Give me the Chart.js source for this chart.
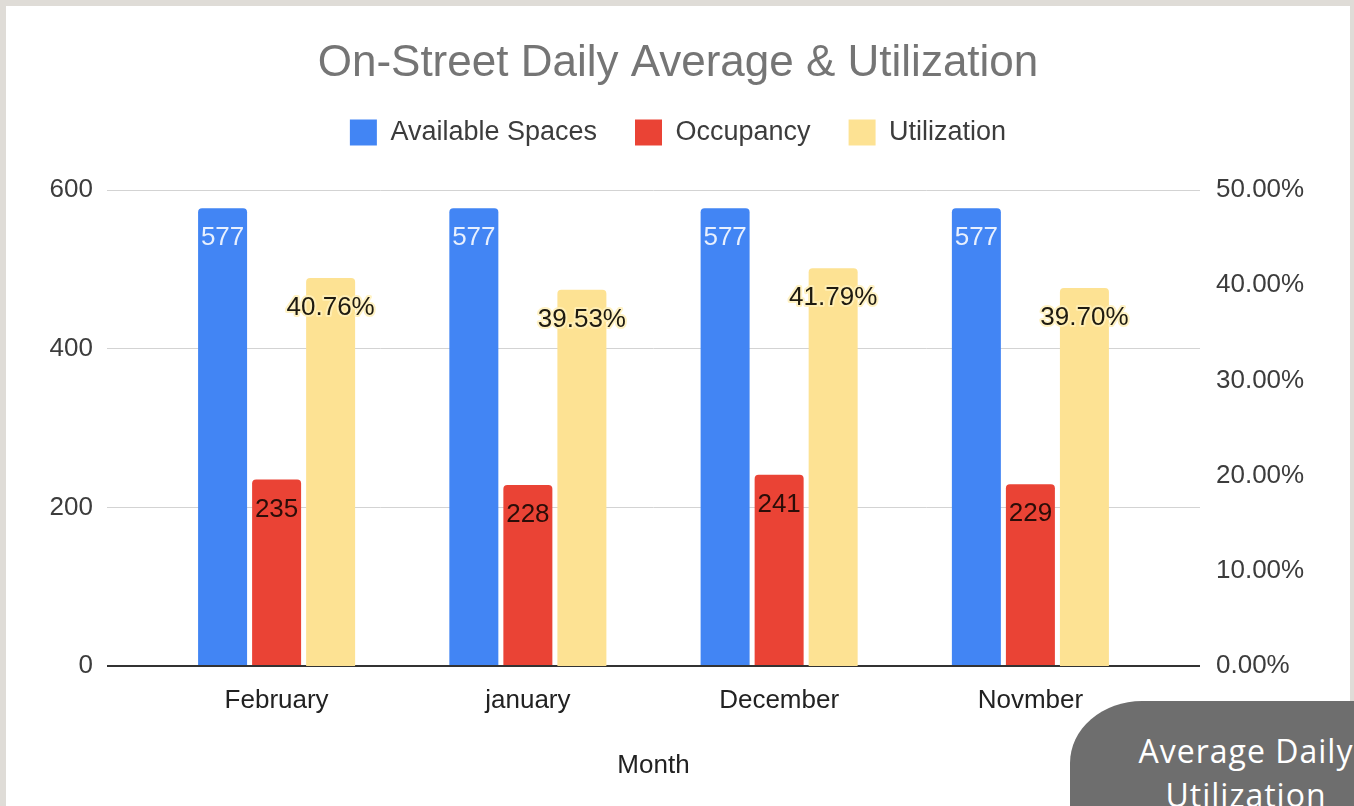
<!DOCTYPE html>
<html>
<head>
<meta charset="utf-8">
<title>On-Street Daily Average &amp; Utilization</title>
<script src="https://cdn.jsdelivr.net/npm/chart.js@4.4.1/dist/chart.umd.min.js"></script>
<style>
  html, body { margin: 0; padding: 0; }
  body {
    position: relative;
    width: 1354px;
    height: 806px;
    overflow: hidden;
    background: #dfdcd7;
  }
  #frame {
    position: absolute;
    left: 6px;
    top: 6px;
    width: 1344px;
    height: 800px;
    background: #fff;
  }
  #badge {
    position: absolute;
    left: 1070px;
    top: 701px;
    width: 352px;
    height: 160px;
    box-sizing: border-box;
    padding-top: 28px;
    background: #6e6e6e;
    border-top-left-radius: 72px 62px;
    color: #fff;
    font-family: "Open Sans", sans-serif;
    font-size: 32px;
    letter-spacing: 1px;
    line-height: 44px;
    text-align: center;
  }
</style>
</head>
<body>
<div id="frame"><canvas id="utilchart" width="1344" height="800"></canvas></div>
<div id="badge">Average Daily<br>Utilization</div>
<script>
const months = ["February", "january", "December", "Novmber"];
const availableSpaces = [577, 577, 577, 577];
const occupancy = [235, 228, 241, 229];
const utilization = [40.76, 39.53, 41.79, 39.70];
const leftTicks = [0, 200, 400, 600];
const rightTicks = [0, 10, 20, 30, 40, 50];

Chart.defaults.font.family = "'Liberation Sans', Arial, sans-serif";

// month index on x, value on y
function points(values) {
  return values.map(function(v, i) {
    return { x: i, y: v };
  });
}

// value text just under the top of each bar
const barLabels = {
  id: "barLabels",
  afterDatasetsDraw(chart) {
    const ctx = chart.ctx;
    ctx.save();
    ctx.font = "26px 'Liberation Sans', Arial, sans-serif";
    ctx.textAlign = "center";
    ctx.textBaseline = "middle";
    chart.data.datasets.forEach(function(ds, di) {
      chart.getDatasetMeta(di).data.forEach(function(bar, i) {
        const v = ds.data[i].y;
        const text = ds.yAxisID === "y1" ? v.toFixed(2) + "%" : String(v);
        const y = bar.y + 30;
        if (ds.labelHalo) {
          ctx.lineWidth = 4;
          ctx.lineJoin = "round";
          ctx.strokeStyle = ds.labelHalo;
          ctx.strokeText(text, bar.x, y);
        }
        ctx.fillStyle = ds.labelColor;
        ctx.fillText(text, bar.x, y);
      });
    });
    ctx.restore();
  }
};

// extra room between legend and plot
const legendGap = {
  id: "legendGap",
  beforeInit(chart) {
    const fit = chart.legend.fit;
    chart.legend.fit = function() {
      fit.call(this);
      this.height += 34;
    };
  }
};

new Chart(document.getElementById("utilchart"), {
  type: "bar",
  data: {
    datasets: [
      {
        label: "Available Spaces",
        data: points(availableSpaces),
        backgroundColor: "#4285f4",
        yAxisID: "y",
        labelColor: "#e8f0fe"
      },
      {
        label: "Occupancy",
        data: points(occupancy),
        backgroundColor: "#ea4335",
        yAxisID: "y",
        labelColor: "#2b0d08"
      },
      {
        label: "Utilization",
        data: points(utilization),
        backgroundColor: "#fde293",
        yAxisID: "y1",
        labelColor: "#1e1a10",
        labelHalo: "rgba(255, 240, 185, 0.85)"
      }
    ]
  },
  options: {
    responsive: false,
    animation: false,
    events: [],
    categoryPercentage: 0.645,
    barPercentage: 0.907,
    borderRadius: 4,
    layout: {
      padding: { top: 0, left: 0, right: 0, bottom: 20 }
    },
    plugins: {
      title: {
        display: true,
        text: "On-Street Daily Average & Utilization",
        color: "#757575",
        font: { size: 44, weight: "normal", lineHeight: 1 },
        padding: { top: 36, bottom: -5 }
      },
      legend: {
        labels: {
          boxWidth: 27,
          boxHeight: 26,
          padding: 38,
          color: "#3c3c3c",
          font: { size: 27 }
        }
      },
      tooltip: { enabled: false }
    },
    scales: {
      x: {
        type: "linear",
        min: -0.675,
        max: 3.675,
        offset: false,
        grid: { display: false },
        border: { display: false },
        afterBuildTicks: function(s) {
          s.ticks = months.map(function(m, i) { return { value: i }; });
        },
        afterFit: function(s) { s.height = 120; },
        ticks: {
          callback: function(v) { return months[v]; },
          color: "#222",
          font: { size: 26 },
          padding: 11,
          maxRotation: 0,
          autoSkip: false
        },
        title: {
          display: true,
          text: "Month",
          color: "#222",
          font: { size: 26 },
          padding: { top: 4, bottom: 5 }
        }
      },
      y: {
        position: "left",
        min: 0,
        max: 600,
        border: { display: false },
        afterBuildTicks: function(s) {
          s.ticks = leftTicks.map(function(v) { return { value: v }; });
        },
        afterFit: function(s) { s.width = 101; },
        grid: {
          drawTicks: false,
          color: function(c) { return c.tick.value === 0 ? "#333" : "#d3d3d3"; },
          lineWidth: function(c) { return c.tick.value === 0 ? 2 : 1; }
        },
        ticks: { color: "#3c3c3c", font: { size: 26 }, padding: 14 }
      },
      y1: {
        position: "right",
        min: 0,
        max: 50,
        border: { display: false },
        grid: { display: false, drawTicks: false },
        afterBuildTicks: function(s) {
          s.ticks = rightTicks.map(function(v) { return { value: v }; });
        },
        afterFit: function(s) { s.width = 150; },
        ticks: {
          callback: function(v) { return v.toFixed(2) + "%"; },
          color: "#3c3c3c",
          font: { size: 26 },
          padding: 16
        }
      }
    }
  },
  plugins: [legendGap, barLabels]
});
</script>
</body>
</html>
